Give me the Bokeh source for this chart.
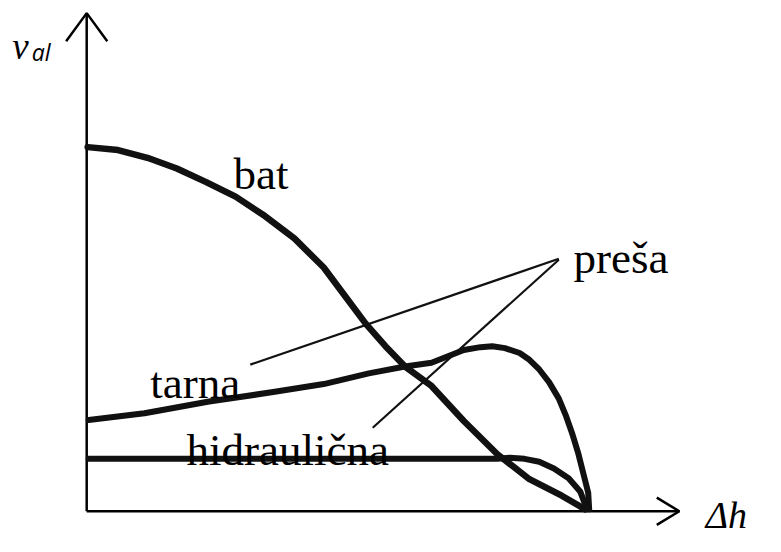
from bokeh.plotting import figure
from bokeh.models import Range1d
from bokeh.core.properties import value
from bokeh.embed import file_html
from bokeh.resources import INLINE

# Curves (x = Δh, y = v_al, in drawing units from the origin)
bat_x = [1, 32, 62, 92, 122, 152, 182, 212, 242, 262, 285, 305, 325, 352, 385, 419, 452, 485, 509]
bat_y = [375, 372, 364, 353, 339, 324, 304, 281, 251, 224, 193, 170, 149, 129, 93, 59, 33, 16, 2]

tarna_x = [2, 59, 125, 192, 242, 288, 325, 352, 385, 402, 414, 427, 442, 452, 462, 472, 482, 489, 496, 502, 507, 512, 513]
tarna_y = [94, 101, 113, 123, 131, 142, 149, 153, 166, 169, 170, 168, 163, 156, 146, 133, 116, 99, 79, 59, 39, 19, 2]

hidr_x = [2, 92, 252, 419, 432, 447, 462, 477, 492, 504, 510]
hidr_y = [54, 54, 54, 54, 55, 54, 51, 44, 34, 20, 4]

# Leader lines from labels to "preša"
lead_tarna_x = [167, 482]
lead_tarna_y = [151, 260]
lead_hidr_x = [292, 482]
lead_hidr_y = [86, 259]

# Axis extents
y_axis_top = 513
x_axis_end = 605

labels = ["bat", "preša", "tarna", "hidraulična"]
label_x = [150, 497, 65, 102]
label_y = [347, 261, 132, 63]

p = figure(width=765, height=536, x_range=Range1d(-88, 693), y_range=Range1d(-26, 526),
           output_backend="svg", toolbar_location=None, min_border=0,
           outline_line_color=None, background_fill_color="white", border_fill_color="white")
p.xaxis.visible = False
p.yaxis.visible = False
p.xgrid.visible = False
p.ygrid.visible = False

# axes with arrows
p.line([0, 0], [0, y_axis_top], line_color="black", line_width=2.5)
p.line([0, x_axis_end], [0, 0], line_color="black", line_width=2.5)
p.line([-21, 0, 21], [y_axis_top - 29, y_axis_top, y_axis_top - 29], line_color="black", line_width=2.5)
p.line([x_axis_end - 23, x_axis_end, x_axis_end - 23], [14, 0, -14], line_color="black", line_width=2.5)

# curves
p.line(bat_x, bat_y, line_color="#111111", line_width=6.5, line_join="round", line_cap="round")
p.line(tarna_x, tarna_y, line_color="#111111", line_width=6, line_join="round", line_cap="round")
p.line(hidr_x, hidr_y, line_color="#111111", line_width=6, line_join="round", line_cap="round")

# leader lines
p.line(lead_tarna_x, lead_tarna_y, line_color="#111111", line_width=2.2)
p.line(lead_hidr_x, lead_hidr_y, line_color="#111111", line_width=2.2)

# labels
p.text(x=label_x, y=label_y, text=labels, text_font=value("Liberation Serif"),
       text_font_size=value("45px"), text_color="black",
       text_align="left", text_baseline="alphabetic")

# axis titles
p.text(x=[-76], y=[479], text=["v"], text_font=value("Liberation Serif"),
       text_font_style="italic", text_font_size=value("37px"), text_color="black",
       text_align="left", text_baseline="alphabetic")
p.text(x=[-56], y=[473], text=["al"], text_font=value("Open Sans"),
       text_font_style="italic", text_font_size=value("23px"), text_color="black",
       text_align="left", text_baseline="alphabetic")
p.text(x=[632], y=[-4], text=["Δh"], text_font=value("Liberation Serif"),
       text_font_style="italic", text_font_size=value("38px"), text_color="black",
       text_align="left", text_baseline="alphabetic")

open("out.html", "w").write(file_html(p, INLINE))
